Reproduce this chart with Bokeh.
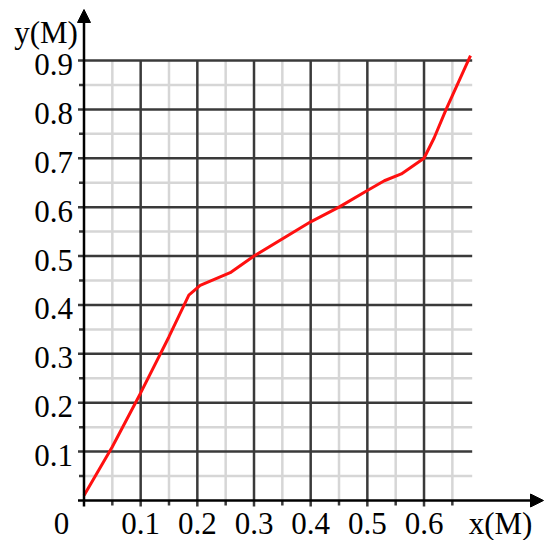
from bokeh.plotting import figure
from bokeh.models import Range1d, Arrow, NormalHead
from bokeh.core.properties import value
from bokeh.embed import file_html
from bokeh.resources import INLINE

# ---- data ----
x_data = [0.0, 0.05, 0.10, 0.15, 0.185, 0.205, 0.258, 0.30, 0.40, 0.45, 0.50, 0.53, 0.56, 0.60, 0.618, 0.639, 0.682]
y_data = [0.01, 0.11, 0.22, 0.335, 0.42, 0.44, 0.466, 0.50, 0.57, 0.60, 0.634, 0.654, 0.668, 0.70, 0.742, 0.80, 0.91]

x_major = [0.1, 0.2, 0.3, 0.4, 0.5, 0.6]
x_minor = [0.05, 0.15, 0.25, 0.35, 0.45, 0.55, 0.65]
y_major = [0.1, 0.2, 0.3, 0.4, 0.5, 0.6, 0.7, 0.8, 0.9]
y_minor = [0.05, 0.15, 0.25, 0.35, 0.45, 0.55, 0.65, 0.75, 0.85]
x_tick_labels = ["0.1", "0.2", "0.3", "0.4", "0.5", "0.6"]
y_tick_labels = ["0.1", "0.2", "0.3", "0.4", "0.5", "0.6", "0.7", "0.8", "0.9"]
x_grid_end = 0.685
y_grid_end = 0.9
x_title = "x(M)"
y_title = "y(M)"
origin_label = "0"

# ---- layout ----
W, H = 544, 540
KX, KY = 566.7, 488.9          # pixels per data unit
X0_PX, Y0_PX = 83.5, 40.0      # origin position within figure (from left / from bottom)
xs = -X0_PX / KX
xe = xs + W / KX
ys = -Y0_PX / KY
ye = ys + H / KY

def dx(px):
    return px / KX

def dy(px):
    return px / KY

p = figure(width=W, height=H, output_backend="svg", toolbar_location=None,
           x_range=Range1d(xs, xe), y_range=Range1d(ys, ye),
           min_border=0, min_border_left=0, min_border_right=0,
           min_border_top=0, min_border_bottom=0)
p.axis.visible = False
p.grid.visible = False
p.outline_line_color = None
p.background_fill_color = "white"
p.border_fill_color = "white"

MINOR_C = "#d6d6d6"
MAJOR_C = "#3a3a3a"
LW = 2.5

# minor grid
p.segment(x0=x_minor, y0=[0] * len(x_minor), x1=x_minor, y1=[y_grid_end] * len(x_minor),
          line_color=MINOR_C, line_width=LW)
p.segment(x0=[0] * len(y_minor), y0=y_minor, x1=[x_grid_end] * len(y_minor), y1=y_minor,
          line_color=MINOR_C, line_width=LW)
# minor ticks outside axes
p.segment(x0=x_minor, y0=[0] * len(x_minor), x1=x_minor, y1=[-dy(5)] * len(x_minor),
          line_color=MAJOR_C, line_width=LW)
p.segment(x0=[-dx(5)] * len(y_minor), y0=y_minor, x1=[0] * len(y_minor), y1=y_minor,
          line_color=MAJOR_C, line_width=LW)
# major grid
p.segment(x0=x_major, y0=[-dy(6)] * len(x_major), x1=x_major, y1=[y_grid_end] * len(x_major),
          line_color=MAJOR_C, line_width=LW)
p.segment(x0=[-dx(6)] * len(y_major), y0=y_major, x1=[x_grid_end] * len(y_major), y1=y_major,
          line_color=MAJOR_C, line_width=LW)

# axes with arrows
p.add_layout(Arrow(x_start=-dx(6), y_start=0, x_end=xe - dx(1), y_end=0,
                   line_color="black", line_width=2.5,
                   end=NormalHead(size=13, fill_color="black", line_color="black", line_width=1)))
p.add_layout(Arrow(x_start=0, y_start=-dy(6), x_end=0, y_end=ye - dy(9),
                   line_color="black", line_width=2.5,
                   end=NormalHead(size=13, fill_color="black", line_color="black", line_width=1)))

# data line
p.line(x_data, y_data, line_color="#ff1010", line_width=3)

FONT = value("Liberation Serif")
FS = "31px"

# tick labels
p.text(x=x_major, y=[-dy(23)] * len(x_major), text=x_tick_labels,
       text_font=FONT, text_font_size=FS, text_align="center", text_baseline="middle",
       text_color="black")
p.text(x=[-dx(11)] * len(y_major), y=[v - dy(4) for v in y_major], text=y_tick_labels,
       text_font=FONT, text_font_size=FS, text_align="right", text_baseline="middle",
       text_color="black")
p.text(x=[-dx(22.5)], y=[-dy(23)], text=[origin_label],
       text_font=FONT, text_font_size=FS, text_align="center", text_baseline="middle",
       text_color="black")
p.text(x=[0.735], y=[-dy(23)], text=[x_title],
       text_font=FONT, text_font_size=FS, text_align="center", text_baseline="middle",
       text_color="black")
p.text(x=[-dx(38)], y=[dy(468)], text=[y_title],
       text_font=FONT, text_font_size=FS, text_align="center", text_baseline="middle",
       text_color="black")

open("out.html", "w").write(file_html(p, INLINE))
